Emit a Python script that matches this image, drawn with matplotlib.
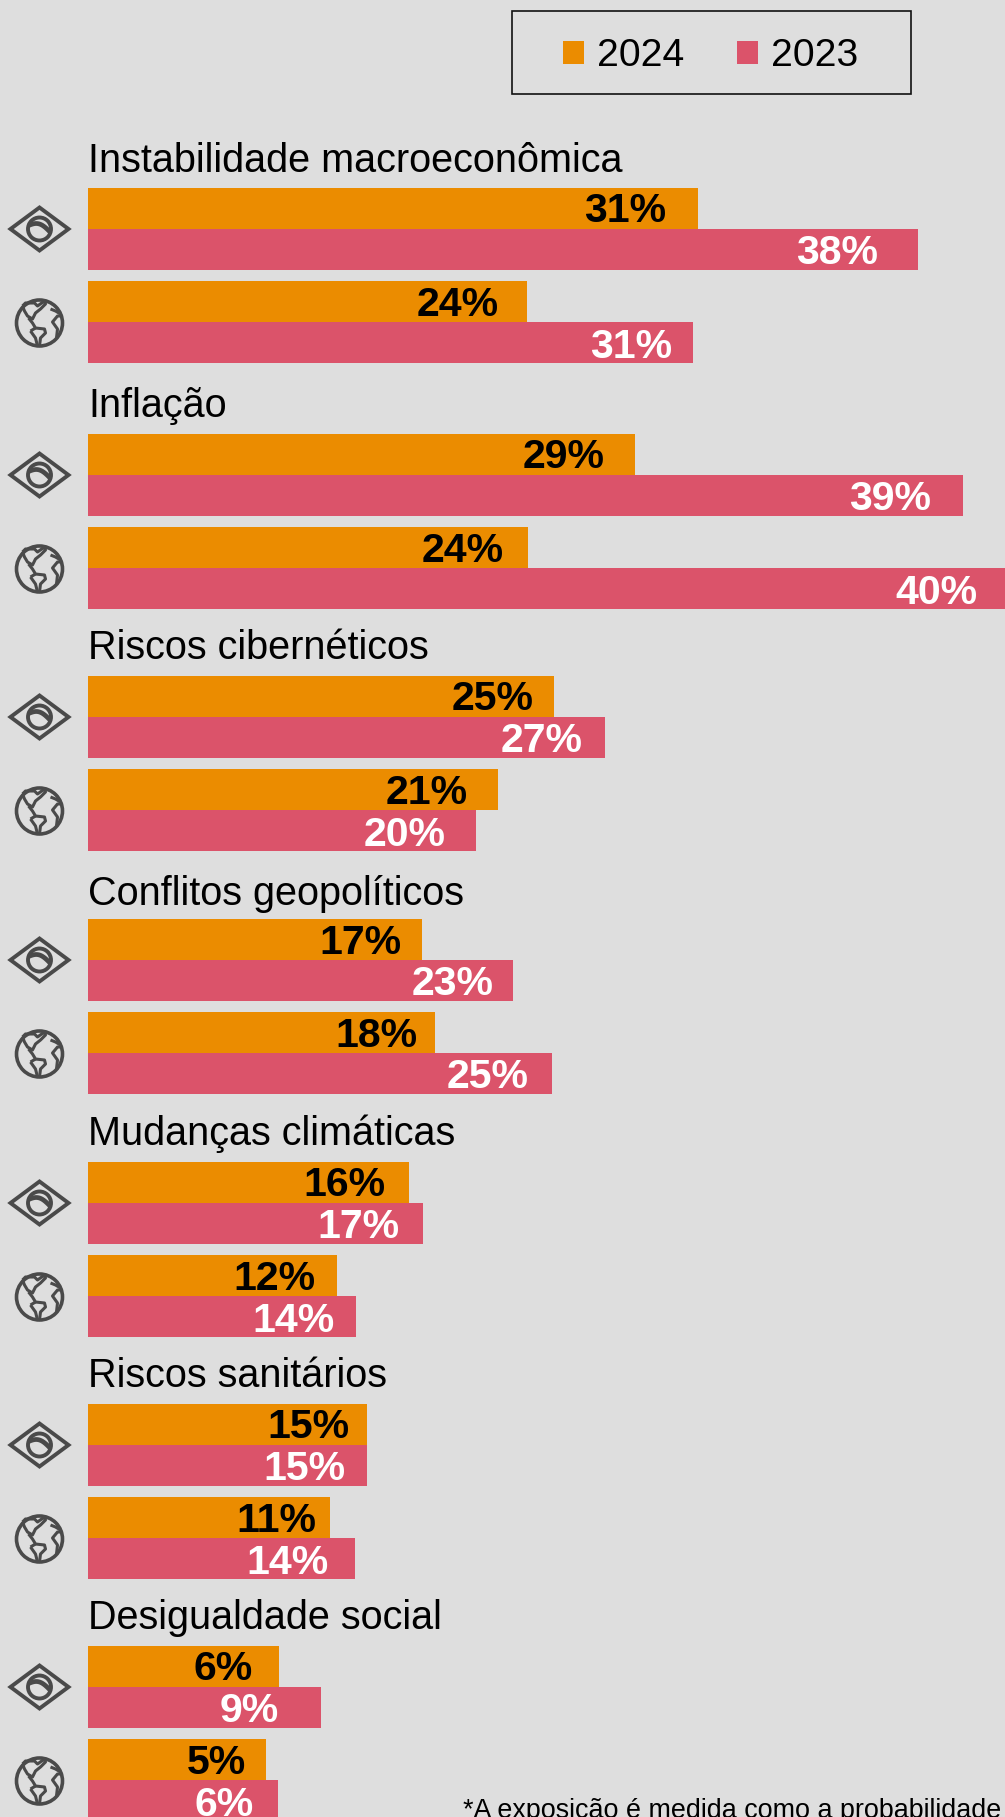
import matplotlib
matplotlib.use('Agg')
import matplotlib.pyplot as plt
import numpy as np
from matplotlib.patches import Circle, Polygon, Rectangle
from matplotlib.path import Path
from matplotlib.patches import PathPatch

plt.rcParams['font.family'] = ['Liberation Sans', 'DejaVu Sans']

categories = ['Instabilidade macroeconômica', 'Inflação', 'Riscos cibernéticos',
              'Conflitos geopolíticos', 'Mudanças climáticas', 'Riscos sanitários',
              'Desigualdade social']

# printed percentages, each category has [Brasil, global]
labels_2024 = [[31, 24], [29, 24], [25, 21], [17, 18], [16, 12], [15, 11], [6, 5]]
labels_2023 = [[38, 31], [39, 40], [27, 20], [23, 25], [17, 14], [15, 14], [9, 6]]

# bar lengths (px), the source does not scale them with the labels
lengths_2024 = [[610, 439], [547, 440], [466, 410], [334, 347], [321, 249], [279, 242], [191, 178]]
lengths_2023 = [[830, 605], [875, 917], [517, 388], [425, 464], [335, 268], [279, 267], [233, 190]]

# distance from bar end to label end
gaps_2024 = [[32, 28], [30, 24], [20, 30], [21, 17], [24, 22], [17, 14], [26, 20]]
gaps_2023 = [[40, 21], [32, 28], [22, 30], [19, 23], [24, 21], [21, 26], [42, 24]]

footnote = '*A exposição é medida como a probabilidade'

ORANGE = '#EB8C00'
PINK = '#DB536A'
BG = '#DEDEDE'
ICON = '#4A4A4A'
LEFT = 88
ROW_TOPS = [188, 434, 676, 919, 1162, 1404, 1646]
TITLE_RAISE = [16, 17, 17, 14, 17, 17, 17]

fig = plt.figure(figsize=(10.05, 18.17), dpi=100, facecolor=BG)
ax = fig.add_axes([0, 0, 1, 1])
ax.set_xlim(0, 1005)
ax.set_ylim(1817, 0)
ax.axis('off')


def flag_icon(cx, cy):
    ax.add_patch(Polygon([(cx - 29, cy), (cx, cy - 21.5), (cx + 29, cy), (cx, cy + 21.5)],
                         closed=True, fill=False, ec=ICON, lw=2.8, joinstyle='miter'))
    ax.add_patch(Circle((cx, cy), 11.5, fill=False, ec=ICON, lw=2.8))
    t = np.linspace(0, 1, 20)
    bx = cx - 11 + 22 * t
    by = cy - 3.5 - 5 * np.sin(np.pi * t) + 7 * t
    ax.plot(bx, by, color=ICON, lw=3.4, solid_capstyle='butt')


def globe_icon(cx, cy):
    ax.add_patch(Circle((cx, cy), 23, fill=False, ec=ICON, lw=2.6))
    # continents in local coordinates
    americas = [(-17, -17), (-14, -20), (-5, -20), (-2, -17), (5, -22), (6, -19), (1, -14),
                (-4, -10), (-7, -4), (-12, -7), (-15, -12), (-17, -17)]
    south = [(-11, -5), (-7, 0), (-4, 5), (5, 6), (6, 10), (1, 15), (0, 23)]
    south2 = [(-9, 8), (-4, 15), (-2, 23)]
    south3 = [(-4, 5), (-9, 8)]
    africa = [(23, -7), (18, -7), (13, -1), (18, 6), (17, 15)]
    north = [(11, -14), (16, -12), (21, -9)]
    for pts in [americas, south, south2, south3, africa, north]:
        codes = [Path.MOVETO] + [Path.LINETO] * (len(pts) - 1)
        path = Path([(cx + p[0], cy + p[1]) for p in pts], codes)
        ax.add_patch(PathPatch(path, fill=False, ec=ICON, lw=2.2, joinstyle='round'))


for i, cat in enumerate(categories):
    top = ROW_TOPS[i]
    ax.text(LEFT, top - TITLE_RAISE[i], cat, fontsize=28.5, color='black', ha='left', va='baseline')
    for j in range(2):
        y0 = top + j * 93.5
        ax.barh(y0 + 20.5, lengths_2024[i][j], height=41, left=LEFT, color=ORANGE, lw=0)
        ax.barh(y0 + 61.5, lengths_2023[i][j], height=41, left=LEFT, color=PINK, lw=0)
        ax.text(LEFT + lengths_2024[i][j] - gaps_2024[i][j], y0 + 19.5, f'{labels_2024[i][j]}%',
                fontsize=29.5, fontweight='bold', color='black', ha='right', va='center_baseline')
        ax.text(LEFT + lengths_2023[i][j] - gaps_2023[i][j], y0 + 61, f'{labels_2023[i][j]}%',
                fontsize=29.5, fontweight='bold', color='white', ha='right', va='center_baseline')
    flag_icon(39.5, top + 41)
    globe_icon(39.5, top + 135)

handles = [Rectangle((0, 0), 1, 1, color=ORANGE, lw=0), Rectangle((0, 0), 1, 1, color=PINK, lw=0)]
ax.legend(handles, ['2024', '2023'], ncol=2, loc='center',
          bbox_to_anchor=(710.5 / 1005, 1 - 56.5 / 1817), bbox_transform=fig.transFigure,
          frameon=False, fontsize=28.2, handlelength=0.54, handleheight=0.5,
          handletextpad=0.33, columnspacing=1.33, borderpad=0, borderaxespad=0)
ax.add_patch(Rectangle((511.5, 11.5), 399, 82.5, fill=False, ec='#111111', lw=1.2))

ax.text(463, 1818, footnote, fontsize=19.4, color='black', ha='left', va='baseline')

fig.savefig('out.png', dpi=100, facecolor=BG)
